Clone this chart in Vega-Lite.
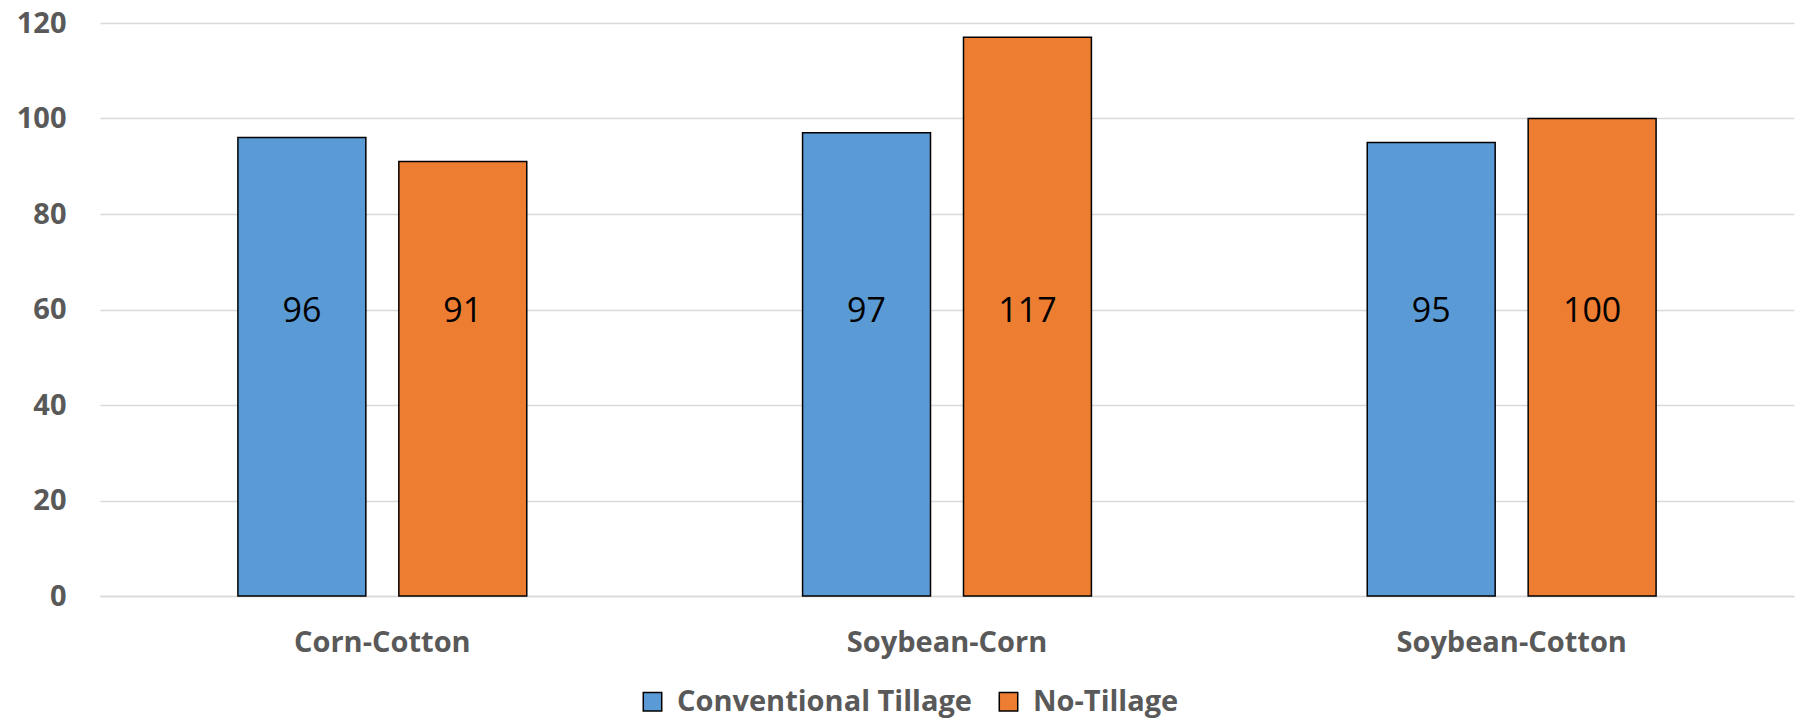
{
  "$schema": "https://vega.github.io/schema/vega-lite/v6.json",
  "width": 1694,
  "height": 573,
  "autosize": {"type": "none"},
  "padding": {"left": 100, "top": 23, "right": 11, "bottom": 125},
  "background": "white",
  "config": {
    "view": {"stroke": null},
    "font": "Open Sans"
  },
  "data": {
    "values": [
      {"rotation": "Corn-Cotton", "tillage": "Conventional Tillage", "value": 96},
      {"rotation": "Corn-Cotton", "tillage": "No-Tillage", "value": 91},
      {"rotation": "Soybean-Corn", "tillage": "Conventional Tillage", "value": 97},
      {"rotation": "Soybean-Corn", "tillage": "No-Tillage", "value": 117},
      {"rotation": "Soybean-Cotton", "tillage": "Conventional Tillage", "value": 95},
      {"rotation": "Soybean-Cotton", "tillage": "No-Tillage", "value": 100}
    ]
  },
  "encoding": {
    "x": {
      "field": "rotation",
      "type": "nominal",
      "sort": ["Corn-Cotton", "Soybean-Corn", "Soybean-Cotton"],
      "scale": {"paddingInner": 0, "paddingOuter": 0},
      "axis": {
        "title": null,
        "labelAngle": 0,
        "labelLimit": 0,
        "labelFont": "Open Sans",
        "labelFontWeight": "bold",
        "labelFontSize": 29,
        "labelColor": "#595959",
        "labelPadding": 32,
        "ticks": false,
        "domain": true,
        "domainColor": "#d9d9d9",
        "domainWidth": 1.5,
        "grid": false
      }
    },
    "xOffset": {
      "field": "tillage",
      "type": "nominal",
      "sort": ["Conventional Tillage", "No-Tillage"],
      "scale": {"paddingInner": 0.205, "paddingOuter": 0.857}
    }
  },
  "layer": [
    {
      "mark": {"type": "bar", "stroke": "black", "strokeWidth": 1.5},
      "encoding": {
        "y": {
          "field": "value",
          "type": "quantitative",
          "scale": {"domain": [0, 120], "nice": false},
          "axis": {
            "title": null,
            "values": [0, 20, 40, 60, 80, 100, 120],
            "labelFont": "Open Sans",
            "labelFontWeight": "bold",
            "labelFontSize": 29,
            "labelColor": "#595959",
            "labelPadding": 34,
            "ticks": false,
            "domain": false,
            "grid": true,
            "gridColor": "#d9d9d9",
            "gridWidth": 1.5
          }
        },
        "color": {
          "field": "tillage",
          "type": "nominal",
          "sort": ["Conventional Tillage", "No-Tillage"],
          "scale": {"range": ["#5B9BD5", "#ED7D31"]},
          "legend": {
            "title": null,
            "orient": "none",
            "legendX": 538,
            "legendY": 664,
            "direction": "horizontal",
            "symbolType": "square",
            "symbolSize": 340,
            "symbolStrokeColor": "black",
            "symbolStrokeWidth": 1.5,
            "symbolOpacity": 1,
            "labelFont": "Open Sans",
            "labelFontWeight": "bold",
            "labelFontSize": 29,
            "labelColor": "#595959",
            "labelLimit": 0,
            "labelOffset": 10,
            "columnPadding": 22
          }
        }
      }
    },
    {
      "mark": {"type": "text", "font": "Open Sans", "fontSize": 34, "color": "black", "baseline": "middle", "align": "center"},
      "encoding": {
        "y": {"datum": 59.5, "type": "quantitative"},
        "text": {"field": "value", "type": "quantitative"}
      }
    }
  ]
}
